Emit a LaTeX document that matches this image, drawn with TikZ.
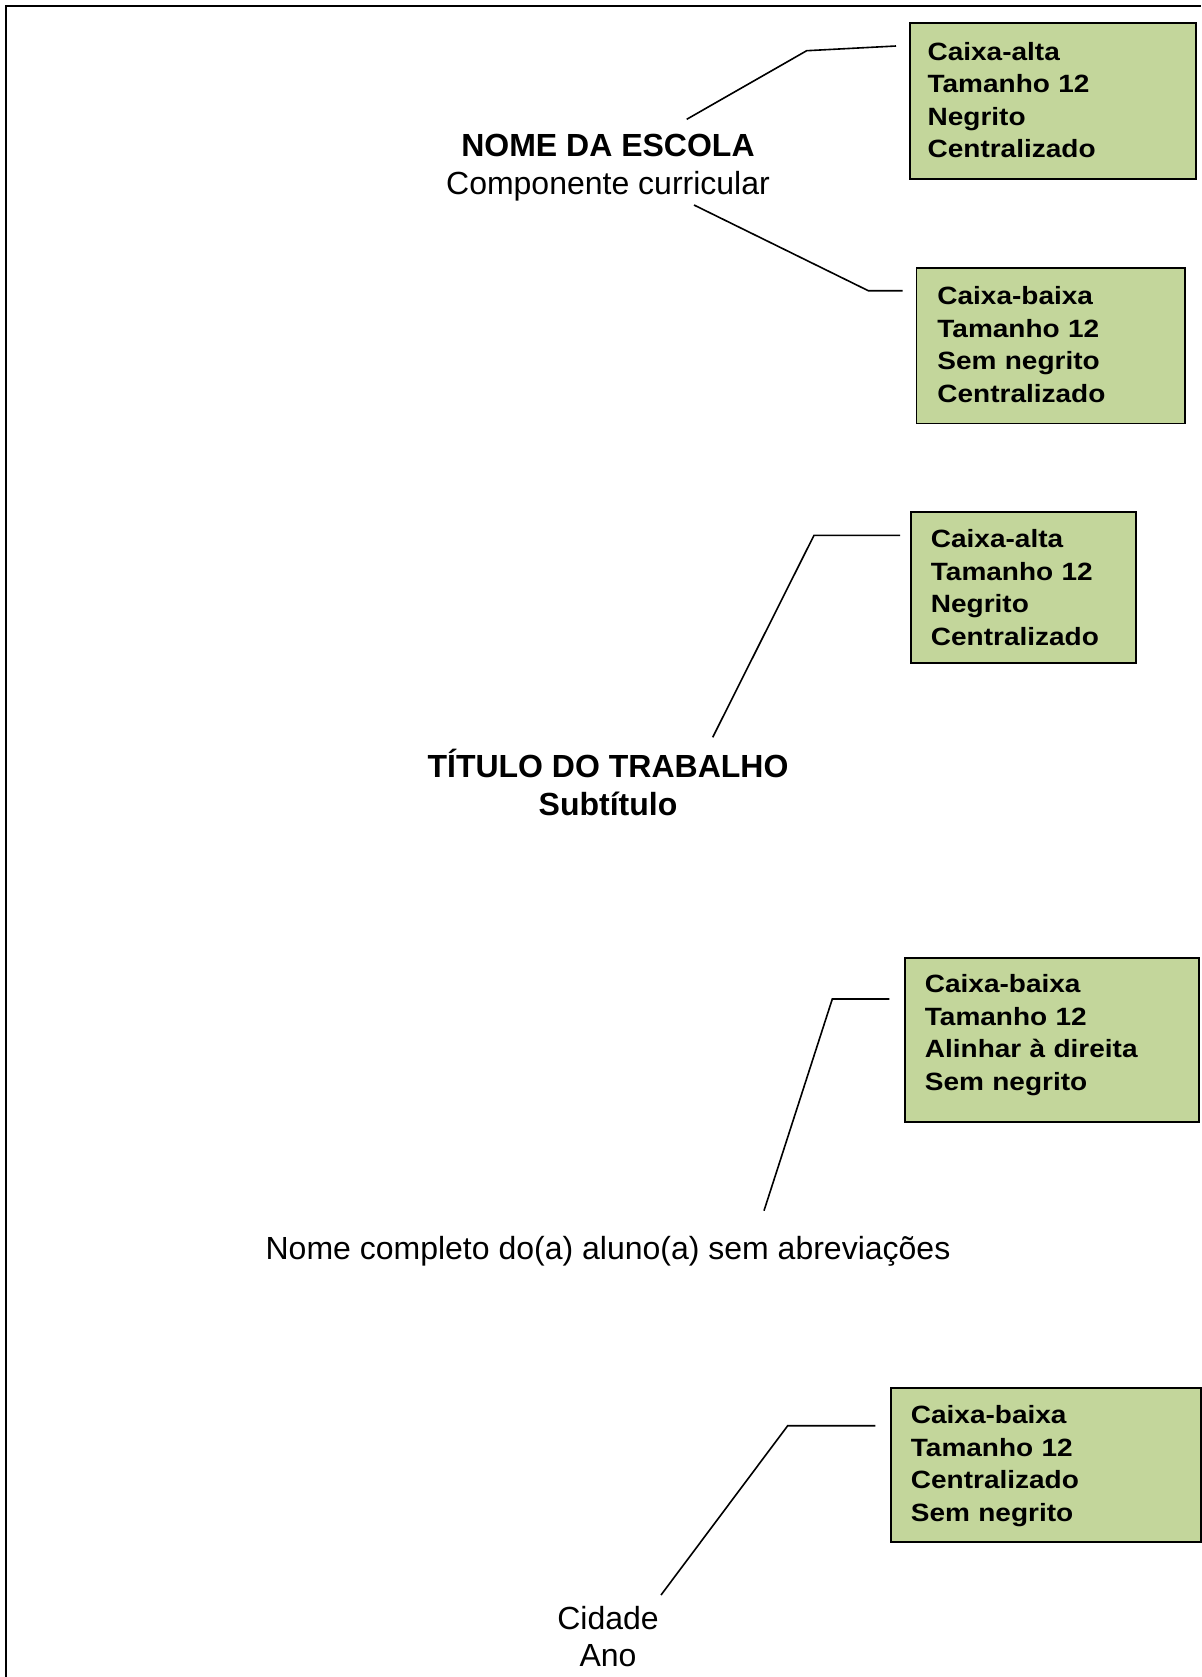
\documentclass[tikz,border=0pt]{standalone}
\usepackage{fontspec}
\setmainfont{Liberation Sans}
\newfontfamily\boxfont[FakeStretch=1.12]{Liberation Sans}
\usetikzlibrary{calc}
\definecolor{boxgreen}{HTML}{C3D69B}
\begin{document}
\begin{tikzpicture}[x=0.5pt,y=-0.5pt,
  note/.style={draw=black, line width=0.9pt, fill=boxgreen, anchor=north west,
    inner ysep=0pt, align=left,
    font=\boxfont\bfseries\fontsize{12.5pt}{16.2pt}\selectfont},
  maintext/.style={anchor=base, align=center, inner sep=0pt,
    font=\fontsize{16pt}{18.6pt}\selectfont},
  conn/.style={line width=0.8pt, line join=miter},
  frame/.style={line width=1.1pt, line join=miter}]
\useasboundingbox[fill=white] (0,0) rectangle (1201,1677);
\draw[frame] (6,1677) -- (6,6) -- (1201,6);

% main texts (base anchor = baseline of the last line)
\node[maintext] (escola) at (608,194) {\textbf{NOME DA ESCOLA}\\Componente curricular};
\node[maintext] (titulo) at (608,815) {\textbf{TÍTULO DO TRABALHO}\\\textbf{Subtítulo}};
\node[maintext] (aluno) at (608,1259) {Nome completo do(a) aluno(a) sem abreviações};
\node[maintext] (cidade) at (608,1666.7) {Cidade\\Ano};

% notes
\node[note, inner xsep=8.85pt, text width=125.3pt, text height=18.65pt, text depth=59.35pt]
  (b1) at (909,22) {Caixa-alta\\Tamanho 12\\Negrito\\Centralizado};
\node[note, inner xsep=10.5pt, text width=113.25pt, text height=18.3pt, text depth=59.25pt]
  (b2) at (915.5,267.4) {Caixa-baixa\\Tamanho 12\\Sem negrito\\Centralizado};
\node[note, inner xsep=10pt, text width=92.5pt, text height=18pt, text depth=57.5pt]
  (b3) at (910,511) {Caixa-alta\\Tamanho 12\\Negrito\\Centralizado};
\node[note, inner xsep=10pt, text width=127pt, text height=17.5pt, text depth=64.5pt]
  (b4) at (904,957) {Caixa-baixa\\Tamanho 12\\Alinhar à direita\\Sem negrito};
\node[note, inner xsep=10pt, text width=135pt, text height=18pt, text depth=59pt]
  (b5) at (890,1387) {Caixa-baixa\\Tamanho 12\\Centralizado\\Sem negrito};

% connectors
\coordinate (s1) at (686.7,119.3);
\coordinate (k1) at (806.7,50.7);
\draw[conn] (s1) -- (k1) -- ($(b1.north west)+(-13,24)$);

\coordinate (s2) at (694,205);
\coordinate (k2) at (868.3,290.7);
\draw[conn] (s2) -- (k2) -- ($(b2.north west)+(-12.8,23.3)$);

\coordinate (s3) at (712.7,737.3);
\coordinate (k3) at (814,535.3);
\draw[conn] (s3) -- (k3) -- ($(b3.north west)+(-10,24.3)$);

\coordinate (s4) at (764,1210.7);
\coordinate (k4) at (832.3,999);
\draw[conn] (s4) -- (k4) -- ($(b4.north west)+(-14.7,42)$);

\coordinate (s5) at (661,1595);
\coordinate (k5) at (787.7,1425.7);
\draw[conn] (s5) -- (k5) -- ($(b5.north west)+(-14.7,38.7)$);
\end{tikzpicture}
\end{document}
